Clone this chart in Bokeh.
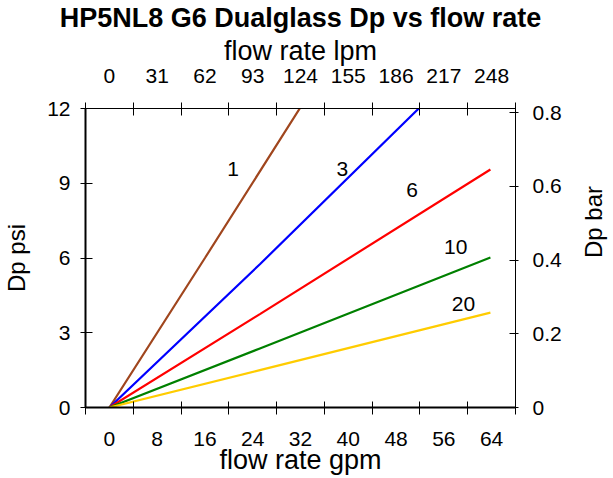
import math
from bokeh.plotting import figure
from bokeh.models import LinearAxis, FixedTicker, Range1d, Label
from bokeh.embed import file_html
from bokeh.resources import INLINE

FONT = "Liberation Sans"

# data (gpm vs psi)
s1_gpm = [0, 16, 32]
s1_psi = [0, 6.0, 12.05]
s3_gpm = [0, 25.2, 51.8]
s3_psi = [0, 5.75, 12.0]
s6_gpm = [0, 25.2, 63.8]
s6_psi = [0, 3.75, 9.55]
s10_gpm = [0, 25.2, 63.8]
s10_psi = [0, 2.37, 6.02]
s20_gpm = [0, 25.2, 63.8]
s20_psi = [0, 1.50, 3.81]

series_names = ["1", "3", "6", "10", "20"]
series_colors = ["#A0461E", "#0000FF", "#FF0000", "#008000", "#FFCC00"]
label_x = [20.7, 39.0, 50.7, 58.0, 59.3]
label_y = [9.56, 9.56, 8.71, 6.43, 4.14]

gpm_ticks = [0, 8, 16, 24, 32, 40, 48, 56, 64]
gpm_marks = [-4, 4, 12, 20, 28, 36, 44, 52, 60, 68]
lpm_labels = ["0", "31", "62", "93", "124", "155", "186", "217", "248"]
psi_ticks = [0, 3, 6, 9, 12]
bar_ticks = [0, 0.2, 0.4, 0.6, 0.8]

p = figure(frame_width=430, frame_height=299, output_backend="svg", toolbar_location=None,
           x_range=Range1d(-4, 68), y_range=Range1d(0, 12),
           x_axis_type=None, y_axis_type=None,
           min_border_left=85, min_border_right=98, min_border_top=107, min_border_bottom=72)
p.extra_y_ranges = {"bar": Range1d(0, 0.811)}
p.outline_line_color = "black"
p.outline_line_width = 1
p.outline_line_alpha = 1
p.background_fill_color = "white"

p.title.text = "HP5NL8 G6 Dualglass Dp vs flow rate"
p.title.align = "center"
p.title.text_font = FONT
p.title.text_font_size = "27px"
p.title.text_font_style = "bold"
p.title.text_color = "black"
p.title.standoff = 0
p.title.offset = 10


def style(ax, label_size="27px"):
    ax.major_label_text_font = FONT
    ax.major_label_text_font_size = "21px"
    ax.major_label_text_color = "black"
    ax.axis_label_text_font = FONT
    ax.axis_label_text_font_size = label_size
    ax.axis_label_text_font_style = "normal"
    ax.axis_label_text_color = "black"
    ax.axis_line_color = "black"
    ax.major_tick_line_color = "black"
    ax.minor_tick_line_color = "black"


bottom = LinearAxis(ticker=FixedTicker(ticks=gpm_ticks, minor_ticks=gpm_marks),
                    axis_label="flow rate gpm")
style(bottom)
bottom.axis_line_width = 2
bottom.major_tick_in = 0
bottom.major_tick_out = 0
bottom.minor_tick_in = 6
bottom.minor_tick_out = 7
bottom.major_label_standoff = 17
bottom.axis_label_standoff = -4
p.add_layout(bottom, "below")

top = LinearAxis(ticker=FixedTicker(ticks=gpm_ticks, minor_ticks=gpm_marks),
                 axis_label="flow rate lpm",
                 major_label_overrides={t: s for t, s in zip(gpm_ticks, lpm_labels)})
style(top)
top.major_tick_in = 0
top.major_tick_out = 0
top.minor_tick_in = 7
top.minor_tick_out = 6
top.major_label_standoff = 20
top.axis_label_standoff = 0
p.add_layout(top, "above")

left = LinearAxis(ticker=FixedTicker(ticks=psi_ticks), axis_label="Dp psi")
style(left, "24px")
left.axis_line_width = 2
left.major_tick_in = 7
left.major_tick_out = 5
left.minor_tick_line_color = None
left.major_label_standoff = 10
left.axis_label_standoff = 14
p.add_layout(left, "left")

# right axis: its line comes from the frame outline; bounds shift the label centre
right = LinearAxis(ticker=FixedTicker(ticks=bar_ticks), y_range_name="bar", axis_label="Dp bar",
                   bounds=(-0.179, 0.811))
style(right, "24px")
right.axis_line_color = None
right.major_tick_in = 6
right.major_tick_out = 3
right.minor_tick_line_color = None
right.major_label_standoff = 14
right.axis_label_standoff = 29
right.axis_label_orientation = math.pi / 2
p.add_layout(right, "right")

data = [(s1_gpm, s1_psi), (s3_gpm, s3_psi), (s6_gpm, s6_psi), (s10_gpm, s10_psi), (s20_gpm, s20_psi)]
for (xs, ys), c in zip(data, series_colors):
    p.line(xs, ys, line_color=c, line_width=2.2)

for name, lx, ly in zip(series_names, label_x, label_y):
    p.add_layout(Label(x=lx, y=ly, text=name, text_align="center", text_baseline="middle",
                       text_font=FONT, text_font_size="21px", text_color="black"))

open("out.html", "w").write(file_html(p, INLINE))
